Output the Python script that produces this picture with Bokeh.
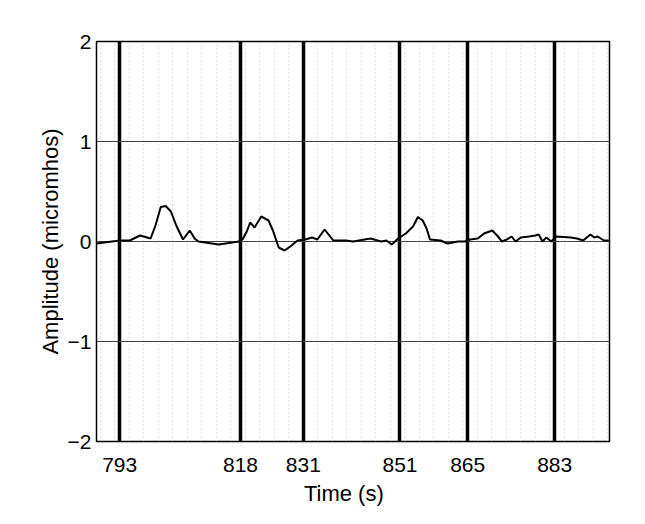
from bokeh.plotting import figure
from bokeh.models import Range1d, FixedTicker
from bokeh.embed import file_html
from bokeh.resources import INLINE

# Event times (s) marked by thick vertical lines / tick labels
event_times = [793, 818, 831, 851, 865, 883]
y_ticks = [-2, -1, 0, 1, 2]

# Skin-conductance trace
time_s = [788.2, 793.0, 795.1, 797.2, 799.4, 800.4, 801.5, 802.5, 803.6, 804.7,
          806.1, 807.5, 808.5, 809.3, 813.5, 817.7, 818.4, 819.3, 820.0, 820.9,
          822.3, 823.8, 824.7, 825.9, 827.1, 828.3, 829.8, 831.4, 832.8, 833.9,
          835.4, 837.2, 839.8, 841.3, 844.9, 847.1, 848.2, 849.3, 850.6, 852.2,
          853.7, 854.7, 855.7, 856.5, 857.2, 859.4, 860.8, 863.0, 864.4, 865.5,
          867.1, 868.4, 870.1, 871.1, 872.1, 873.1, 874.1, 874.9, 876.0, 877.7,
          879.0, 879.7, 880.5, 881.3, 882.3, 883.3, 886.3, 887.6, 888.9, 890.4,
          891.2, 891.9, 893.2, 894.2]
amplitude = [-0.02, 0.01, 0.01, 0.06, 0.03, 0.16, 0.345, 0.355, 0.30, 0.16,
             0.02, 0.11, 0.03, 0.0, -0.03, 0.0, 0.02, 0.10, 0.19, 0.14,
             0.25, 0.21, 0.11, -0.06, -0.09, -0.05, 0.01, 0.02, 0.04, 0.02,
             0.12, 0.01, 0.01, 0.0, 0.03, 0.0, 0.01, -0.03, 0.03, 0.08,
             0.15, 0.245, 0.21, 0.13, 0.02, 0.01, -0.02, 0.0, 0.0, 0.02,
             0.03, 0.08, 0.11, 0.06, 0.0, 0.02, 0.05, 0.0, 0.04, 0.05,
             0.06, 0.07, 0.0, 0.04, 0.0, 0.05, 0.04, 0.03, 0.01, 0.07,
             0.04, 0.05, 0.01, 0.01]

# Faint dotted background lines (every 3 s)
minor_times = [t for t in range(789, 895, 3) if t not in event_times]

FONT = "Liberation Sans"

p = figure(width=629, height=508, output_backend="svg", toolbar_location=None,
           x_range=Range1d(788.2, 894.35), y_range=Range1d(-2, 2),
           min_border_left=96, min_border_right=20,
           min_border_top=41, min_border_bottom=65)

p.background_fill_color = "white"
p.border_fill_color = "white"
p.outline_line_color = "black"
p.outline_line_width = 1.5

p.xaxis.ticker = FixedTicker(ticks=event_times, minor_ticks=minor_times)
p.yaxis.ticker = FixedTicker(ticks=y_ticks)
p.yaxis.major_label_overrides = {-1: "\u22121", -2: "\u22122"}

for ax in (p.xaxis[0], p.yaxis[0]):
    ax.axis_line_color = None
    ax.major_tick_line_color = None
    ax.minor_tick_line_color = None
    ax.major_tick_out = 0
    ax.major_tick_in = 0
    ax.major_label_text_font = FONT
    ax.major_label_text_font_size = "21px"
    ax.major_label_text_color = "black"
    ax.axis_label_text_font = FONT
    ax.axis_label_text_font_style = "normal"
    ax.axis_label_text_color = "black"

p.xaxis.axis_label = "Time (s)\u00a0\u00a0\u00a0"
p.xaxis.axis_label_text_font_size = "22px"
p.xaxis.major_label_standoff = 12
p.xaxis.axis_label_standoff = 6

p.yaxis.axis_label = "Amplitude (micromhos)"
p.yaxis.axis_label_text_font_size = "22px"
p.yaxis.major_label_standoff = 5
p.yaxis.axis_label_standoff = 2

# Thick event lines
p.xgrid.grid_line_color = "black"
p.xgrid.grid_line_width = 3.5
p.xgrid.minor_grid_line_color = "#c4c4c4"
p.xgrid.minor_grid_line_width = 1
p.xgrid.minor_grid_line_dash = "1 3"

# Horizontal amplitude lines
p.ygrid.grid_line_color = "#444444"
p.ygrid.grid_line_width = 1

p.line(time_s, amplitude, line_color="black", line_width=2)

open("out.html", "w").write(file_html(p, INLINE))
